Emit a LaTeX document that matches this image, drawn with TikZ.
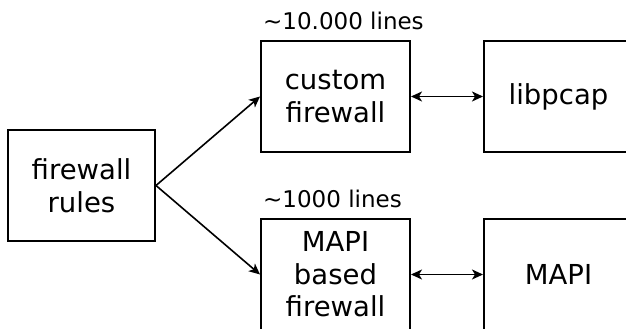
\documentclass[tikz,border=0pt]{standalone}
\usepackage{fontspec}
\setmainfont{DejaVu Sans}
\usetikzlibrary{arrows.meta}
\begin{document}
\begin{tikzpicture}[x=1pt,y=1pt,
  box/.style={draw,line width=2pt,minimum width=149pt,minimum height=111pt,
    inner sep=0pt,align=center,font=\fontsize{27.5}{32.5}\selectfont},
  note/.style={anchor=base west,inner sep=0pt,font=\fontsize{23}{27}\selectfont},
  conn/.style={line width=1.6pt,-{Stealth[length=11pt,width=10pt,inset=3pt]}},
  biconn/.style={line width=1.6pt,{Stealth[length=11pt,width=10pt,inset=3pt]}-{Stealth[length=11pt,width=10pt,inset=3pt]}}]
\useasboundingbox (0,0) rectangle (626,329);
\node[box,minimum width=147pt] (rules) at (81.5,143.5) {firewall\\rules};
\node[box] (custom) at (335.5,232.5) {custom\\firewall};
\node[box] (pcap) at (558.5,232.5) {libpcap};
\node[box] (mapifw) at (335.5,54.5) {MAPI\\based\\firewall};
\node[box] (mapi) at (558.5,54.5) {MAPI};
\node[note] (n1) at (263,299) {\textasciitilde 10.000 lines};
\node[note] (n2) at (263,121) {\textasciitilde 1000 lines};
\draw[conn] (rules.east) -- (custom.west);
\draw[conn] (rules.east) -- (mapifw.west);
\draw[biconn] (custom.east) -- (pcap.west);
\draw[biconn] (mapifw.east) -- (mapi.west);
\end{tikzpicture}
\end{document}
